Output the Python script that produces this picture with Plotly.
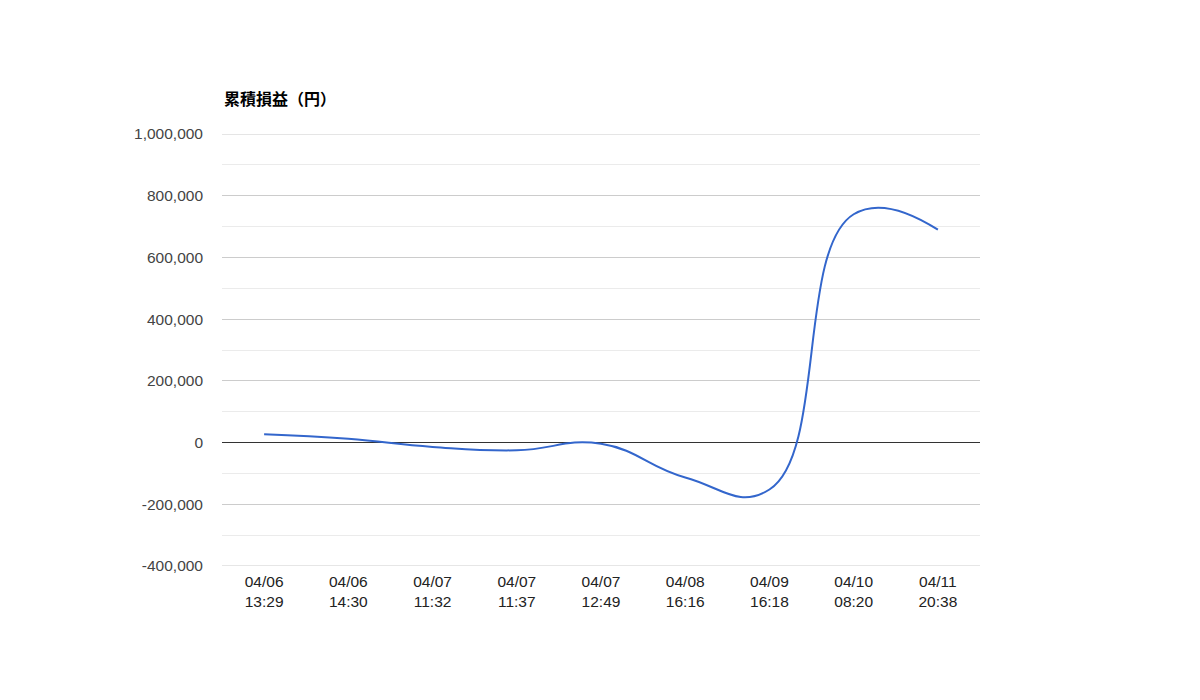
import plotly.graph_objects as go

categories = ["04/06<br>13:29", "04/06<br>14:30", "04/07<br>11:32", "04/07<br>11:37",
              "04/07<br>12:49", "04/08<br>16:16", "04/09<br>16:18", "04/10<br>08:20",
              "04/11<br>20:38"]
values = [27000, 12000, -14000, -25000, -4000, -113000, -152000, 740000, 690000]
ytick_vals = [-400000, -200000, 0, 200000, 400000, 600000, 800000, 1000000]
ytick_text = ["-400,000", "-200,000", "0", "200,000", "400,000", "600,000", "800,000", "1,000,000"]
y_min, y_max = -400000, 1000000

fig = go.Figure()
fig.add_trace(go.Scatter(
    x=list(range(len(categories))), y=values, mode="lines",
    line=dict(color="#3366cc", width=2, shape="spline", smoothing=1.3),
    hoverinfo="skip", showlegend=False,
))

# edge gridlines (Plotly omits gridlines lying exactly on the range ends)
for yv in (y_min, y_max):
    fig.add_shape(type="line", xref="paper", yref="y", x0=0, x1=1, y0=yv, y1=yv,
                  line=dict(color="#cccccc", width=1), layer="below")

fig.update_layout(
    width=1200, height=700,
    margin=dict(l=214, r=228, t=126, b=142),
    paper_bgcolor="white", plot_bgcolor="white",
    font=dict(family="Arial, Liberation Sans, sans-serif", size=15.5, color="#444444"),
    xaxis=dict(
        range=[-0.5, len(categories) - 0.5],
        tickmode="array", tickvals=list(range(len(categories))), ticktext=categories,
        showgrid=False, zeroline=False, showline=False, ticks="",
        tickfont=dict(size=15.5, color="#222222"),
        ticklabelstandoff=4,
    ),
    yaxis=dict(
        range=[y_min, y_max],
        tickmode="array", tickvals=ytick_vals, ticktext=ytick_text,
        showgrid=True, gridcolor="#cccccc", gridwidth=1,
        zeroline=True, zerolinecolor="#333333", zerolinewidth=1,
        showline=False, ticks="",
        tickfont=dict(size=15.5, color="#444444"),
        ticklabelstandoff=18,
        minor=dict(dtick=100000, tick0=0, showgrid=True, gridcolor="#ebebeb", gridwidth=1),
    ),
    annotations=[dict(
        text="<b>累積損益（円）</b>", xref="paper", yref="paper",
        x=0, y=1, xanchor="left", yanchor="bottom", yshift=22,
        showarrow=False,
        font=dict(family="Noto Sans CJK JP", size=16, color="#000000"),
    )],
)

fig.write_html("out.html")
